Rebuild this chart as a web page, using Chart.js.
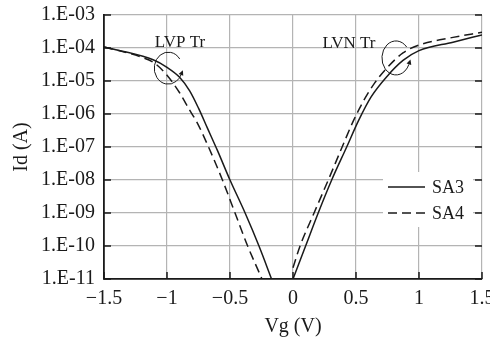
<!DOCTYPE html>
<html>
<head>
<meta charset="utf-8">
<script src="https://cdn.jsdelivr.net/npm/chart.js@4.4.0/dist/chart.umd.min.js"></script>
<style>
  html, body { margin: 0; padding: 0; background: #fff; }
  #wrap { width: 490px; height: 341px; }
</style>
</head>
<body>
<div id="wrap"><canvas id="idvgChart" width="490" height="341"></canvas></div>
<script>
// axis ticks
const xTickValues = [-1.5, -1, -0.5, 0, 0.5, 1, 1.5];
const xTickLabels = ["\u22121.5", "\u22121", "\u22120.5", "0", "0.5", "1", "1.5"];
const yTickValues = [1e-11, 1e-10, 1e-9, 1e-8, 1e-7, 1e-6, 1e-5, 1e-4, 1e-3];
const yTickLabels = ["1.E-11", "1.E-10", "1.E-09", "1.E-08", "1.E-07", "1.E-06", "1.E-05", "1.E-04", "1.E-03"];

// SA3 (solid) - LVP branch (left) and LVN branch (right)
const sa3PVg = [-1.5, -1.37, -1.11, -1.0, -0.9, -0.82, -0.75, -0.68, -0.6, -0.5, -0.38, -0.27, -0.17];
const sa3PId = [1.07e-4, 8.3e-5, 4.4e-5, 2.6e-5, 1.3e-5, 5.0e-6, 1.5e-6, 3.8e-7, 7.9e-8, 1.0e-8, 1.0e-9, 1.0e-10, 1.0e-11];
const sa3NVg = [0, 0.1, 0.2, 0.307, 0.426, 0.52, 0.62, 0.746, 0.873, 1.0, 1.27, 1.5];
const sa3NId = [1.0e-11, 1.0e-10, 1.0e-9, 1.0e-8, 1.0e-7, 6.3e-7, 3.3e-6, 1.38e-5, 4.2e-5, 8.3e-5, 1.5e-4, 2.5e-4];

// SA4 (dashed)
const sa4PVg = [-1.5, -1.21, -1.1, -1.0, -0.9, -0.82, -0.76, -0.66, -0.56, -0.46, -0.36, -0.246];
const sa4PId = [1.07e-4, 5.4e-5, 3.5e-5, 1.5e-5, 4.4e-6, 1.3e-6, 5.4e-7, 8.1e-8, 1.0e-8, 1.0e-9, 1.0e-10, 1.0e-11];
const sa4NVg = [0, 0.056, 0.167, 0.28, 0.39, 0.48, 0.56, 0.65, 0.746, 0.873, 1.0, 1.27, 1.5];
const sa4NId = [2.2e-11, 1.0e-10, 1.0e-9, 1.0e-8, 1.0e-7, 6.3e-7, 2.5e-6, 8.9e-6, 2.5e-5, 7.1e-5, 1.23e-4, 2.1e-4, 3.0e-4];

const seriesNames = ["SA3", "SA4"];
const serifFont = "'Liberation Serif', 'DejaVu Serif', serif";
const ink = "#1a1a1a";

// join both branches with a break between them
const toPoints = (pv, pi, nv, ni) => {
    const pts = pv.map((v, i) => ({ x: v, y: pi[i] }));
    pts.push({ x: -0.08, y: null });
    nv.forEach((v, i) => pts.push({ x: v, y: ni[i] }));
    return pts;
};

// inward tick marks on left, right and bottom edges
const innerTicks = {
    id: "innerTicks",
    afterDraw(chart) {
        const { ctx, chartArea: ca, scales } = chart;
        ctx.save();
        ctx.strokeStyle = ink;
        ctx.lineWidth = 1.5;
        ctx.beginPath();
        yTickValues.forEach(v => {
            const y = scales.y.getPixelForValue(v);
            ctx.moveTo(ca.left, y); ctx.lineTo(ca.left + 7, y);
            ctx.moveTo(ca.right, y); ctx.lineTo(ca.right - 7, y);
        });
        xTickValues.forEach(v => {
            const x = scales.x.getPixelForValue(v);
            ctx.moveTo(x, ca.bottom); ctx.lineTo(x, ca.bottom - 7);
        });
        ctx.stroke();
        ctx.restore();
    }
};

// "LVP Tr" / "LVN Tr" notes with their looped arrows
const loopNotes = [
    { text: "LVP Tr", tx: -0.897, ty: 1.5e-4, cx: -0.99, cy: 2.45e-5, rx: 14, ry: 16, a0: -35, a1: 25 },
    { text: "LVN Tr", tx: 0.444, ty: 1.4e-4, cx: 0.817, cy: 5.0e-5, rx: 14, ry: 17, a0: -40, a1: 22 }
];

const notesPlugin = {
    id: "notes",
    afterDatasetsDraw(chart) {
        const { ctx, scales } = chart;
        ctx.save();
        ctx.fillStyle = ink;
        ctx.strokeStyle = ink;
        ctx.lineWidth = 1;
        ctx.font = "17px " + serifFont;
        ctx.textAlign = "center";
        ctx.textBaseline = "middle";
        loopNotes.forEach(n => {
            ctx.fillText(n.text, scales.x.getPixelForValue(n.tx), scales.y.getPixelForValue(n.ty));
            const cx = scales.x.getPixelForValue(n.cx);
            const cy = scales.y.getPixelForValue(n.cy);
            const a0 = n.a0 * Math.PI / 180, a1 = n.a1 * Math.PI / 180;
            ctx.beginPath();
            ctx.ellipse(cx, cy, n.rx, n.ry, 0, a0, a1, true);
            ctx.stroke();
            // arrow head, pointing along the anticlockwise tangent
            const ex = cx + n.rx * Math.cos(a1), ey = cy + n.ry * Math.sin(a1);
            let dx = n.rx * Math.sin(a1), dy = -n.ry * Math.cos(a1);
            const len = Math.hypot(dx, dy);
            dx /= len; dy /= len;
            const tipX = ex + dx * 5, tipY = ey + dy * 5;
            ctx.beginPath();
            ctx.moveTo(tipX, tipY);
            ctx.lineTo(ex - dy * 2.5, ey + dx * 2.5);
            ctx.lineTo(ex + dy * 2.5, ey - dx * 2.5);
            ctx.closePath();
            ctx.fill();
        });
        ctx.restore();
    }
};

// legend in a white box over the grid
const boxLegend = {
    id: "boxLegend",
    afterDatasetsDraw(chart) {
        const { ctx, chartArea: ca } = chart;
        const left = ca.right - 99, top = ca.top + 157;
        ctx.save();
        ctx.fillStyle = "#fff";
        ctx.fillRect(left, top, 90, 55);
        ctx.font = "18px " + serifFont;
        ctx.textBaseline = "middle";
        ctx.textAlign = "left";
        chart.data.datasets.forEach((ds, i) => {
            const y = top + 15 + i * 26;
            ctx.strokeStyle = ink;
            ctx.lineWidth = 1.5;
            ctx.setLineDash(ds.borderDash || []);
            ctx.beginPath();
            ctx.moveTo(left + 5, y);
            ctx.lineTo(left + 42, y);
            ctx.stroke();
            ctx.setLineDash([]);
            ctx.fillStyle = ink;
            ctx.fillText(ds.label, left + 49, y + 1);
        });
        ctx.restore();
    }
};

new Chart(document.getElementById("idvgChart").getContext("2d"), {
    type: "line",
    data: {
        datasets: [
            {
                label: seriesNames[0],
                data: toPoints(sa3PVg, sa3PId, sa3NVg, sa3NId),
                borderColor: ink,
                borderWidth: 1.5,
                pointRadius: 0,
                cubicInterpolationMode: "monotone",
                spanGaps: false
            },
            {
                label: seriesNames[1],
                data: toPoints(sa4PVg, sa4PId, sa4NVg, sa4NId),
                borderColor: ink,
                borderWidth: 1.5,
                borderDash: [9, 5],
                pointRadius: 0,
                cubicInterpolationMode: "monotone",
                spanGaps: false
            }
        ]
    },
    options: {
        responsive: false,
        animation: false,
        devicePixelRatio: 1,
        layout: { padding: { top: 15, right: 8, left: 0, bottom: 0 } },
        plugins: {
            legend: { display: false },
            tooltip: { enabled: false }
        },
        scales: {
            x: {
                type: "linear",
                min: -1.5,
                max: 1.5,
                afterBuildTicks: axis => { axis.ticks = xTickValues.map(v => ({ value: v })); },
                afterFit: axis => { axis.height = 62; axis.paddingLeft = 0; axis.paddingRight = 0; },
                ticks: {
                    callback: (value, index) => xTickLabels[index],
                    color: ink,
                    font: { family: serifFont, size: 20 },
                    padding: 8,
                    maxRotation: 0,
                    autoSkip: false
                },
                grid: { color: "#b4b4b4", lineWidth: 1.2, drawTicks: false },
                border: { color: ink, width: 1.8 },
                title: {
                    display: true,
                    text: "Vg (V)",
                    color: ink,
                    font: { family: serifFont, size: 20 },
                    padding: { top: 0, bottom: 2 }
                }
            },
            y: {
                type: "logarithmic",
                min: 1e-11,
                max: 1e-3,
                afterBuildTicks: axis => { axis.ticks = yTickValues.map(v => ({ value: v })); },
                afterFit: axis => { axis.width = 104; axis.paddingTop = 0; axis.paddingBottom = 0; },
                ticks: {
                    callback: (value, index) => yTickLabels[index],
                    color: ink,
                    font: { family: serifFont, size: 20 },
                    padding: 9,
                    autoSkip: false
                },
                grid: { color: "#b4b4b4", lineWidth: 1.2, drawTicks: false },
                border: { color: ink, width: 1.8 },
                title: {
                    display: true,
                    text: "Id (A)",
                    color: ink,
                    font: { family: serifFont, size: 20 },
                    padding: { top: 10, bottom: 0 }
                }
            }
        }
    },
    plugins: [innerTicks, notesPlugin, boxLegend]
});
</script>
</body>
</html>
